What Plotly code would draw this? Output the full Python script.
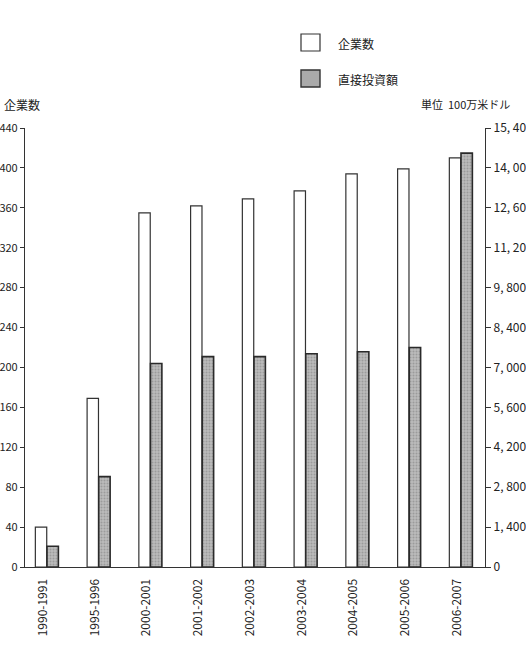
import plotly.graph_objects as go

periods = ["1990-1991", "1995-1996", "2000-2001", "2001-2002", "2002-2003",
           "2003-2004", "2004-2005", "2005-2006", "2006-2007"]
firms = [40, 169, 355, 362, 369, 377, 394, 399, 410]
fdi = [730, 3170, 7140, 7380, 7380, 7480, 7550, 7700, 14520]

left_ticks = [0, 40, 80, 120, 160, 200, 240, 280, 320, 360, 400, 440]
right_ticks = [0, 1400, 2800, 4200, 5600, 7000, 8400, 9800, 11200, 12600, 14000, 15400]
right_ticktext = ["0", "1, 400", "2, 800", "4, 200", "5, 600", "7, 000", "8, 400",
                  "9, 800", "11, 200", "12, 600", "14, 000", "15, 400"]

W, H = 526, 657
L, R, T, B = 25, 485, 128, 567
FONT = "Noto Sans CJK JP"
INK = "#222222"


def px(x):
    return (x - L) / (R - L)


def py(y):
    return (B - y) / (B - T)


fig = go.Figure()
fig.add_trace(go.Bar(
    x=periods, y=firms, name="企業数", width=0.22, offset=-0.225,
    marker=dict(color="white", line=dict(color="#333333", width=1.2)),
    yaxis="y",
))
fig.add_trace(go.Bar(
    x=periods, y=fdi, name="直接投資額", width=0.22, offset=0.0,
    marker=dict(color="#aaaaaa", line=dict(color="#2a2a2a", width=1.6),
                pattern=dict(shape=".", fgcolor="#7a7a7a", bgcolor="#bdbdbd", size=3, solidity=0.4)),
    yaxis="y2",
))

fig.update_layout(
    width=W, height=H,
    margin=dict(l=L, r=W - R, t=T, b=H - B),
    paper_bgcolor="white", plot_bgcolor="white",
    font=dict(family=FONT, size=12, color=INK),
    showlegend=False,
    xaxis=dict(
        type="category", range=[-0.425, 8.464],
        showline=True, linecolor="#333333", linewidth=1.2,
        ticks="", tickangle=-90, showgrid=False, zeroline=False,
        ticklabelstandoff=6, ticklabelshift=-4,
        tickfont=dict(family=FONT, size=12, color=INK),
    ),
    yaxis=dict(
        range=[0, 440], tickvals=left_ticks, ticks="outside", ticklen=4,
        tickcolor="#333333", showline=True, linecolor="#333333", linewidth=1.2,
        showgrid=False, zeroline=False, automargin=False,
        tickfont=dict(family=FONT, size=11, color=INK),
    ),
    yaxis2=dict(
        range=[0, 15400], tickvals=right_ticks, ticktext=right_ticktext,
        overlaying="y", side="right", ticks="outside", ticklen=5,
        tickcolor="#333333", showline=True, linecolor="#333333", linewidth=1.2,
        showgrid=False, zeroline=False, automargin=False,
        tickfont=dict(family=FONT, size=12, color=INK),
    ),
)

# legend drawn manually (large boxes as in the reference)
fig.add_shape(type="rect", xref="paper", yref="paper",
              x0=px(301), x1=px(320), y0=py(51), y1=py(34),
              fillcolor="white", line=dict(color="#333333", width=1.2))
fig.add_shape(type="rect", xref="paper", yref="paper",
              x0=px(301), x1=px(320), y0=py(87), y1=py(70),
              fillcolor="#aaaaaa", line=dict(color="#333333", width=1.4))
fig.add_annotation(xref="paper", yref="paper", x=px(336), y=py(43), text="企業数",
                   showarrow=False, xanchor="left", yanchor="middle",
                   font=dict(family=FONT, size=12, color=INK))
fig.add_annotation(xref="paper", yref="paper", x=px(336), y=py(79), text="直接投資額",
                   showarrow=False, xanchor="left", yanchor="middle",
                   font=dict(family=FONT, size=12, color=INK))

# axis titles
fig.add_annotation(xref="paper", yref="paper", x=px(2), y=py(104), text="企業数",
                   showarrow=False, xanchor="left", yanchor="middle",
                   font=dict(family=FONT, size=12, color=INK))
fig.add_annotation(xref="paper", yref="paper", x=px(419), y=py(104), text="単位  100万米ドル",
                   showarrow=False, xanchor="left", yanchor="middle",
                   font=dict(family=FONT, size=11, color=INK))

fig.write_html("out.html")
